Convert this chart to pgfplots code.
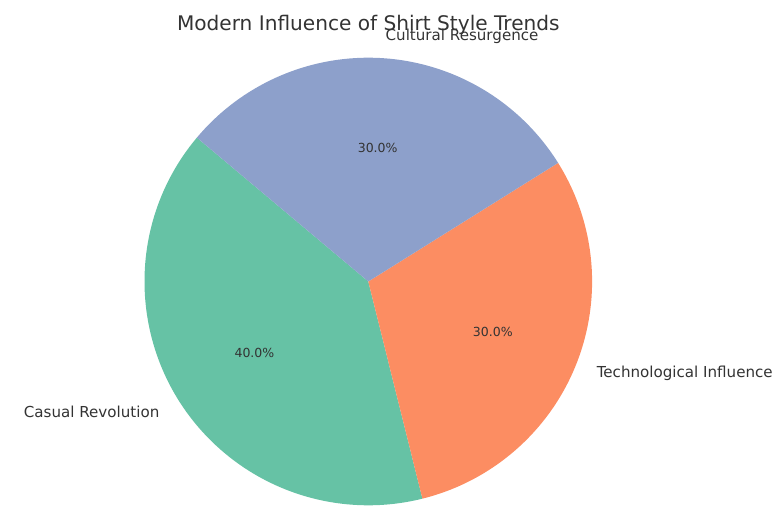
\documentclass[border=0pt]{standalone}
\usepackage{pgfplots}
\pgfplotsset{compat=1.18}
\usetikzlibrary{calc}
\usepackage{fontspec}
\setmainfont{DejaVu Sans}
\definecolor{cA}{HTML}{66C2A5}
\definecolor{cB}{HTML}{FC8D62}
\definecolor{cC}{HTML}{8DA0CB}
\definecolor{txt}{HTML}{333333}
% slice values (percent)
\def\vA{40}% Casual Revolution
\def\vB{30}% Technological Influence
\def\vC{30}% Cultural Resurgence
\def\cx{368.3}
\def\cy{237.5}
\def\R{223.8}
\begin{document}
\begin{tikzpicture}
\begin{axis}[
  hide axis, scale only axis, clip=false,
  width=779pt, height=519pt,
  xmin=0, xmax=779, ymin=0, ymax=519,
]
\pgfmathsetmacro{\aS}{140}
\pgfmathsetmacro{\aA}{\aS+3.6*\vA}
\pgfmathsetmacro{\aB}{\aA+3.6*\vB}
\pgfmathsetmacro{\aC}{\aB+3.6*\vC}
\path (axis cs:0,0) rectangle (axis cs:779,519);
\fill[cA] (axis cs:\cx,\cy) -- ++(\aS:\R pt) arc[start angle=\aS, end angle=\aA, radius=\R pt] -- cycle;
\fill[cB] (axis cs:\cx,\cy) -- ++(\aA:\R pt) arc[start angle=\aA, end angle=\aB, radius=\R pt] -- cycle;
\fill[cC] (axis cs:\cx,\cy) -- ++(\aB:\R pt) arc[start angle=\aB, end angle=\aC, radius=\R pt] -- cycle;
\pgfmathsetmacro{\mA}{(\aS+\aA)/2}
\pgfmathsetmacro{\mB}{(\aA+\aB)/2}
\pgfmathsetmacro{\mC}{(\aB+\aC)/2}
% percent labels at 0.6 R
\node[inner sep=0pt, text=txt, font=\fontsize{12.5}{14}\selectfont] at ($(axis cs:\cx,\cy)+(\mA:0.6*\R pt)$) {40.0\%};
\node[inner sep=0pt, text=txt, font=\fontsize{12.5}{14}\selectfont] at ($(axis cs:\cx,\cy)+(\mB:0.6*\R pt)$) {30.0\%};
\node[inner sep=0pt, text=txt, font=\fontsize{12.5}{14}\selectfont] at ($(axis cs:\cx,\cy)+(\mC:0.6*\R pt)$) {30.0\%};
% category labels at 1.1 R
\node[inner sep=0pt, anchor=east, text=txt, font=\fontsize{15.1}{17}\selectfont] at ($(axis cs:\cx,\cy)+(\mA:1.1*\R pt)$) {Casual Revolution};
\node[inner sep=0pt, anchor=west, text=txt, font=\fontsize{15.1}{17}\selectfont] at ($(axis cs:\cx,\cy)+(\mB:1.1*\R pt)$) {Technological Influence};
\node[inner sep=0pt, anchor=west, text=txt, font=\fontsize{15.1}{17}\selectfont] at ($(axis cs:\cx,\cy)+(\mC:1.1*\R pt)$) {Cultural Resurgence};
% title
\node[inner sep=0pt, anchor=base, text=txt, font=\fontsize{20.1}{23}\selectfont] at (axis cs:368.3,488) {Modern Influence of Shirt Style Trends};
\end{axis}
\end{tikzpicture}
\end{document}
